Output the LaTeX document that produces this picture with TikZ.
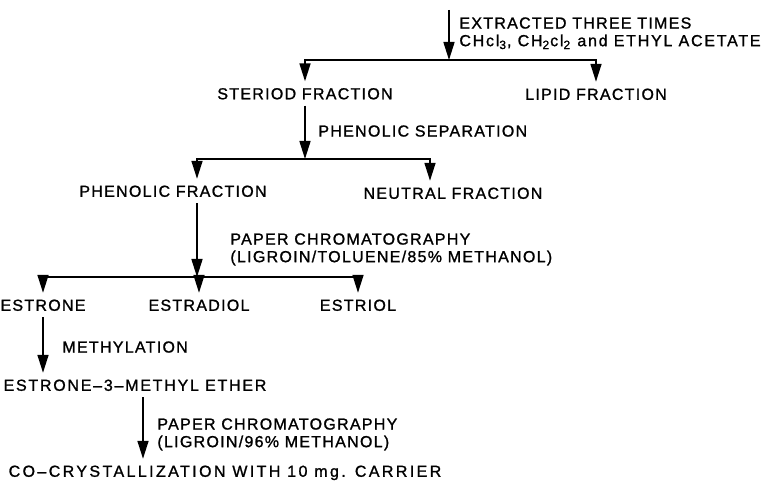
\documentclass[tikz,border=0pt]{standalone}
\usepackage{fontspec}
\setmainfont{Liberation Sans}[LetterSpace=8,FakeBold=1.2]
\usetikzlibrary{arrows.meta}

\begin{document}
\begin{tikzpicture}[
x=0.5pt, y=-0.5pt,
every node/.style={
  font=\fontsize{8}{8.8}\selectfont
  },
frac/.style={
  inner xsep=0pt,
  inner ysep=3pt,
  text height=5.8pt,
  text depth=0pt
  },
note/.style={
  anchor=north west,
  inner sep=0pt,
  align=left
  },
arr/.style={
  -{Triangle[length=9pt,width=5.5pt]},
  line width=0.8pt
  }
]
\useasboundingbox (0,0) rectangle (773,485);

% fractions
\node[frac] (steroid)   at (305,93.5) {STERIOD FRACTION};
\node[frac] (lipid)     at (596,94)   {LIPID FRACTION};
\node[frac] (phenolic)  at (173,191)  {PHENOLIC FRACTION};
\node[frac] (neutral)   at (453,193)  {NEUTRAL FRACTION};
\node[frac] (estrone)   at (43,305)   {ESTRONE};
\node[frac] (estradiol) at (199,305)  {ESTRADIOL};
\node[frac] (estriol)   at (358,305)  {ESTRIOL};
\node[frac] (methether) at (135,385)  {\addfontfeature{LetterSpace=11}ESTRONE--3--METHYL ETHER};
\node[frac] (cocryst)   at (225,471)  {\addfontfeature{LetterSpace=15}CO--CRYSTALLIZATION WITH 10 mg. CARRIER};

% steps
\node[note] (extnote)    at (459,17)  {EXTRACTED THREE TIMES\\{\addfontfeature{LetterSpace=11}CHcl\textsubscript{3}, CH\textsubscript{2}cl\textsubscript{2} and ETHYL ACETATE}};
\node[note] (sepnote)    at (318,125) {PHENOLIC SEPARATION};
\node[note] (chromnote)  at (230,233) {PAPER CHROMATOGRAPHY\\(LIGROIN/TOLUENE/85\% METHANOL)};
\node[note] (methnote)   at (62,341)  {METHYLATION};
\node[note] (chromnoteb) at (157,418) {PAPER CHROMATOGRAPHY\\(LIGROIN/96\% METHANOL)};

% extraction
\coordinate (src) at (449,10);
\coordinate (j1) at (449,60);
\draw[arr] (src) -- (j1);
\draw[arr] (j1) -| (steroid);
\draw[arr] (j1) -| (lipid);

% phenolic separation
\coordinate (j2) at (steroid.south |- 0,159);
\draw[arr] (steroid) -- (j2);
\draw[arr] (j2) -| ([xshift=12pt]phenolic.north);
\draw[arr] (j2) -| ([xshift=-11.5pt]neutral.north);

% chromatography
\coordinate (j3) at ([xshift=12pt]phenolic.south |- 0,277);
\draw[arr] ([xshift=12pt]phenolic.south) -- (j3);
\foreach \fr in {estrone,estradiol,estriol}
  \draw[arr] (j3) -| (\fr);

% methylation and carrier
\draw[arr] (estrone) -- (estrone.south |- methether.north);
\draw[arr] ([xshift=4pt]methether.south) -- ([xshift=4pt]methether.south |- cocryst.north);
\end{tikzpicture}
\end{document}
